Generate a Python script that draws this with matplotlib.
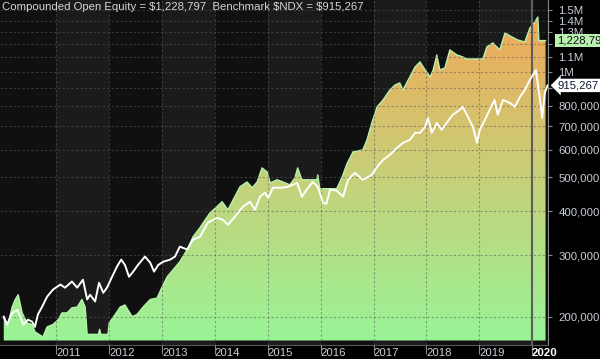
import matplotlib
matplotlib.use('Agg')
import matplotlib.pyplot as plt
from matplotlib.colors import LinearSegmentedColormap
import numpy as np
import pandas as pd

plt.rcParams['font.family'] = ['Liberation Sans', 'DejaVu Sans']

# strategy equity (thousands of $)
eq_dates = ['2010-01-04', '2010-01-27', '2010-03-03', '2010-03-24', '2010-04-14', '2010-05-11',
            '2010-06-14', '2010-07-19', '2010-08-07', '2010-10-02', '2010-10-30', '2010-12-10',
            '2011-01-15', '2011-02-10', '2011-03-17', '2011-04-20', '2011-05-26', '2011-06-28',
            '2011-07-20', '2011-08-03', '2011-10-20', '2011-10-28', '2011-11-05', '2011-12-25',
            '2012-01-02', '2012-02-13', '2012-03-18', '2012-04-20', '2012-05-11', '2012-06-09',
            '2012-07-13', '2012-08-23', '2012-10-12', '2012-11-28',
            '2013-01-01', '2013-02-06', '2013-03-18', '2013-05-04', '2013-06-24', '2013-08-03',
            '2013-09-20', '2013-10-26', '2013-11-29',
            '2014-01-15', '2014-02-20', '2014-04-01', '2014-05-07', '2014-06-24', '2014-08-11',
            '2014-09-16', '2014-10-20', '2014-11-23', '2014-12-28',
            '2015-01-19', '2015-03-07', '2015-04-16', '2015-06-03', '2015-07-08', '2015-07-27',
            '2015-08-25', '2015-12-06', '2015-12-13', '2015-12-27',
            '2016-04-22', '2016-05-30', '2016-07-01', '2016-08-12', '2016-10-19', '2016-11-17',
            '2016-12-20',
            '2017-01-26', '2017-03-08', '2017-04-24', '2017-05-30', '2017-07-01', '2017-07-23',
            '2017-09-09', '2017-10-15', '2017-11-18', '2017-12-23',
            '2018-01-27', '2018-02-17', '2018-03-14', '2018-04-04', '2018-05-09', '2018-06-12',
            '2018-07-31', '2018-09-09', '2018-10-08',
            '2019-01-26', '2019-02-23', '2019-04-05', '2019-05-23', '2019-06-28', '2019-08-14',
            '2019-09-24', '2019-11-12', '2019-12-17',
            '2020-01-20', '2020-02-10', '2020-02-17', '2020-04-03']
eq_vals = [199, 186, 213, 224, 231, 205,
           192, 190, 181, 175, 187, 190,
           196, 205, 205, 212, 213, 224,
           213, 178, 178, 184, 178, 178,
           192, 203, 213, 216, 209, 200,
           203, 213, 224, 226,
           243, 260, 272, 287, 311, 338,
           359, 378, 396,
           412, 426, 404, 431, 470, 485,
           467, 485, 532, 518,
           482, 492, 485, 476, 498, 532,
           492, 492, 508, 464,
           464, 502, 546, 591, 599, 640,
           715,
           795, 832, 888, 918, 930, 888,
           968, 1033, 1068, 1013,
           968, 1013, 1118, 1013, 1027, 1156,
           1118, 1104, 1089,
           1089, 1179, 1210, 1156, 1292, 1259,
           1234, 1218, 1335,
           1389, 1435, 1228.797, 1228.797]

# benchmark $NDX (thousands of $)
bm_dates = ['2010-01-04', '2010-01-27', '2010-03-03', '2010-04-08', '2010-04-27', '2010-05-19',
            '2010-06-21', '2010-07-19', '2010-08-07', '2010-08-28', '2010-09-26', '2010-10-30',
            '2010-12-10',
            '2011-01-30', '2011-03-03', '2011-04-20', '2011-05-26', '2011-07-05', '2011-08-03',
            '2011-08-23', '2011-09-27', '2011-10-24', '2011-11-22', '2011-12-18',
            '2012-01-22', '2012-02-25', '2012-03-25', '2012-04-20', '2012-05-18', '2012-06-16',
            '2012-07-19', '2012-09-05', '2012-10-12', '2012-11-07', '2012-12-06',
            '2013-01-09', '2013-02-26', '2013-04-01', '2013-05-04', '2013-06-24', '2013-08-03',
            '2013-09-20', '2013-11-13',
            '2014-01-15', '2014-02-26', '2014-04-01', '2014-05-19', '2014-07-13', '2014-09-01',
            '2014-10-05', '2014-11-09', '2014-12-13',
            '2015-01-04', '2015-02-06', '2015-04-09', '2015-05-22', '2015-07-24', '2015-08-25',
            '2015-09-27', '2015-11-09', '2015-12-13',
            '2016-01-18', '2016-02-10', '2016-03-07', '2016-04-22', '2016-06-05', '2016-07-09',
            '2016-08-25', '2016-10-19', '2016-12-20',
            '2017-01-26', '2017-03-08', '2017-04-24', '2017-06-12', '2017-07-23', '2017-09-09',
            '2017-10-15', '2017-11-18', '2017-12-23',
            '2018-01-12', '2018-02-08', '2018-03-14', '2018-04-17', '2018-05-21', '2018-07-01',
            '2018-08-20', '2018-09-09', '2018-10-15', '2018-11-18', '2018-12-17',
            '2019-01-05', '2019-02-09', '2019-03-14', '2019-04-17', '2019-05-09', '2019-06-14',
            '2019-07-31', '2019-09-04', '2019-10-09', '2019-11-12', '2019-12-17',
            '2020-01-27', '2020-02-25', '2020-03-11', '2020-03-29', '2020-04-17']
bm_vals = [200, 190, 205, 209, 200, 190,
           196, 193.5, 187, 203, 213.5, 228,
           239,
           247, 242, 252, 242, 255, 224,
           231, 221, 250, 234, 242,
           260, 278, 291, 281, 260, 269,
           281, 297, 285, 269, 281,
           287, 291, 297, 317, 311, 332,
           338, 371,
           383, 378, 366, 386, 412, 426,
           404, 440, 452,
           437, 467, 467, 470, 482, 440,
           461, 485, 470,
           423, 420, 461, 458, 440, 492,
           515, 492, 508,
           536, 561, 580, 607, 627, 640,
           670, 670, 697,
           739, 670, 715, 683, 715, 754,
           779, 795, 744, 697, 627,
           683, 730, 779, 832, 754, 832,
           816, 795, 848, 888, 949,
           1013, 832, 739, 871, 915.267]

ytick_vals = [200e3, 300e3, 400e3, 500e3, 600e3, 700e3, 800e3, 900e3,
              1e6, 1.1e6, 1.2e6, 1.3e6, 1.4e6, 1.5e6]
ytick_labels = ['200,000', '300,000', '400,000', '500,000', '600,000', '700,000', '800,000', '',
                '1M', '1.1M', '', '1.3M', '1.4M', '1.5M']
years = list(range(2011, 2021))

eq_x = pd.to_datetime(eq_dates)
eq_y = np.array(eq_vals) * 1000
bm_x = pd.to_datetime(bm_dates)
bm_y = np.array(bm_vals) * 1000

FS = 8.2

fig = plt.figure(figsize=(6, 3.59), dpi=100, facecolor='black')
ax = fig.add_axes([0, 14 / 359, 548 / 600, 345 / 359])
ax.set_facecolor('#101010')
ax.set_yscale('log')
ax.set_xlim(pd.Timestamp('2009-12-09'), pd.Timestamp('2020-04-20'))
ax.set_ylim(166e3, 1.605e6)

# alternating year bands
for yr in range(2011, 2021, 2):
    ax.axvspan(pd.Timestamp(f'{yr}-01-01'), pd.Timestamp(f'{yr + 1}-01-01'),
               color='#1b1b1b', lw=0, zorder=0)

# gradient-filled equity area
base = 171e3
poly = ax.fill_between(eq_x, base, eq_y, facecolor='none', edgecolor='none', zorder=1)
cmap = LinearSegmentedColormap.from_list('eq', ['#98f598', '#c8cf78', '#f5a455'])
grad = np.linspace(0, 1, 256).reshape(-1, 1)
im = ax.imshow(grad, extent=[0, 1, 0, 1], transform=ax.transAxes, origin='lower',
               aspect='auto', cmap=cmap, zorder=1.5)
im.set_clip_path(poly.get_paths()[0], transform=ax.transData)
ax.plot(eq_x, eq_y, color='#b5f3ad', lw=1.0, zorder=2)

ax.axvline(pd.Timestamp('2020-01-01'), color='#5e5e5e', lw=1.5, zorder=3)
ax.plot(bm_x, bm_y, color='white', lw=1.4, zorder=4)

# grid
ax.grid(True, which='major', color='#5a5a5a', alpha=0.55, lw=0.8, ls=(0, (2, 2)))
ax.set_axisbelow(False)

# y axis on the right
ax.yaxis.tick_right()
ax.yaxis.set_major_locator(matplotlib.ticker.FixedLocator(ytick_vals))
ax.yaxis.set_minor_locator(matplotlib.ticker.NullLocator())
ax.set_yticklabels(ytick_labels)
ax.tick_params(axis='y', colors='#8a8a8a', labelcolor='#c8cfd9', labelsize=FS,
               length=3, pad=4.5)

# x axis
ax.set_xticks([pd.Timestamp(f'{y}-01-01') for y in years])
ax.set_xticklabels([str(y) for y in years], ha='left')
ax.tick_params(axis='x', colors='#8a8a8a', labelcolor='#c8cfd9', labelsize=FS,
               length=6.5, pad=-4.6)
for lab in ax.get_xticklabels():
    lab.set_x(0)
last = ax.get_xticklabels()[-1]
last.set_color('white')
last.set_fontweight('bold')

for s in ['top', 'left']:
    ax.spines[s].set_visible(False)
ax.spines['bottom'].set_color('#555555')
ax.spines['right'].set_color('#8a8a8a')

# value tags at the right
ytr = ax.get_yaxis_transform()
ax.text(1.016, eq_y[-1], '1,228,797', transform=ytr, va='center', ha='left',
        fontsize=FS, color='#101010', clip_on=False,
        bbox=dict(boxstyle='square,pad=0.12', fc='#b8f0b0', ec='none'))
ax.text(1.018, bm_y[-1], '915,267', transform=ytr, va='center', ha='left',
        fontsize=FS, color='#101830', clip_on=False,
        bbox=dict(boxstyle='larrow,pad=0.15', fc='white', ec='none'))

fig.text(0.004, 0.994, 'Compounded Open Equity = $1,228,797  Benchmark $NDX = $915,267',
         ha='left', va='top', fontsize=FS, color='#d6d6d6')

fig.savefig('out.png', dpi=100, facecolor='black')
